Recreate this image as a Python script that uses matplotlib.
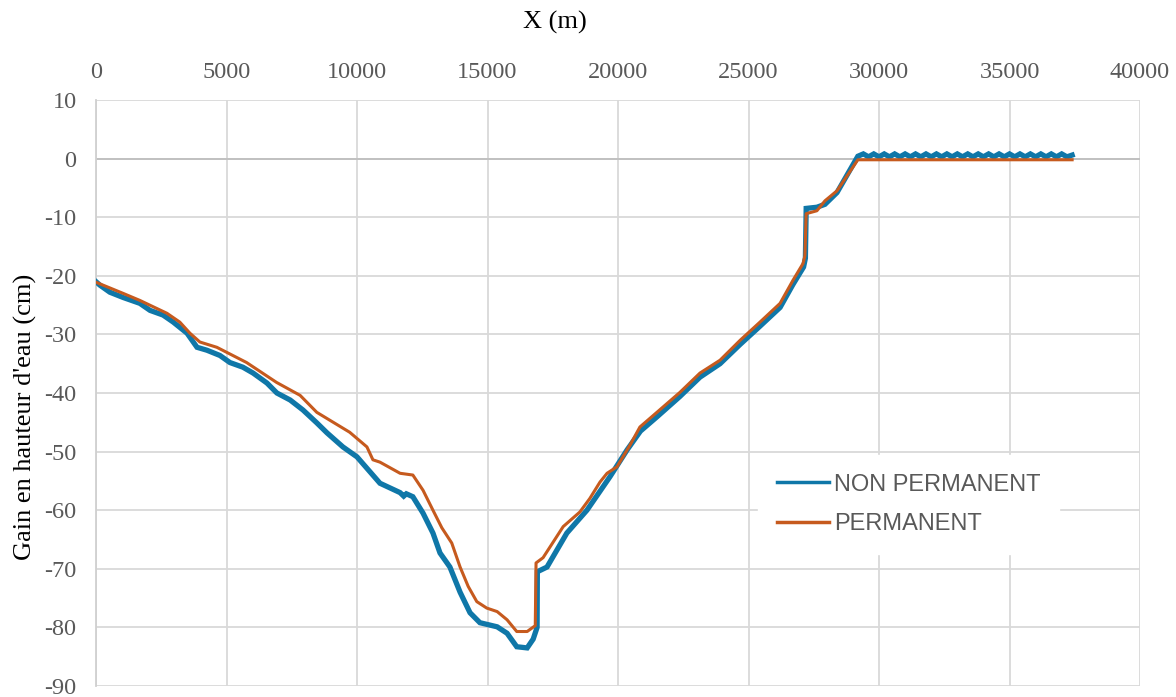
import matplotlib.pyplot as plt

plt.rcParams['axes.unicode_minus'] = False

# PERMANENT (smooth curve)
x_perm = [0, 1040, 1680, 2720, 3210, 3600, 3980, 4630, 5770, 6920, 7820, 8460,
          9720, 10380, 10610, 10880, 11650, 12140, 12530, 12910, 13250, 13630,
          13950, 14260, 14590, 14970, 15370, 15750, 16120, 16520, 16830, 16860,
          17130, 17900, 18540, 18920, 19310, 19580, 19960, 20460, 20840, 21490,
          22370, 23140, 23910, 24680, 25440, 26210, 26700, 27090, 27160, 27210,
          27620, 27930, 28390, 29190, 37400]
y_perm = [-21.1, -23, -24.2, -26.4, -27.9, -29.8, -31.3, -32.2, -34.8, -38.2, -40.4, -43.3,
          -46.7, -49.2, -51.4, -51.8, -53.7, -54, -56.6, -60, -63, -65.6,
          -69.7, -73, -75.6, -76.7, -77.3, -78.7, -80.7, -80.7, -79.7, -69,
          -68.1, -62.8, -60.3, -58, -55.2, -53.7, -52.6, -48.9, -45.8, -43.3,
          -39.9, -36.6, -34.4, -31, -27.9, -24.7, -20.8, -17.9, -16.6, -9.4,
          -8.9, -7.2, -5.5, -0.2, -0.2]

# NON PERMANENT (jagged curve)
x_np = [0, 150, 530, 1040, 1680, 2070, 2570, 2960, 3490, 3870, 4250, 4750,
        5130, 5630, 6020, 6550, 6930, 7440, 7930, 8460, 8850, 9460, 10000,
        10880, 11650, 11790, 11890, 12140, 12530, 12910, 13180, 13560, 13950,
        14330, 14710, 15370, 15750, 16120, 16520, 16750, 16900, 16910, 17280,
        18040, 18810, 19690, 20350, 20860, 21510, 22370, 23140, 23910, 24680,
        25440, 26210, 26700, 27110, 27180, 27210, 27620, 27930, 28390, 29190,
        29400, 29600, 29800, 30000, 30200, 30400, 30600, 30800, 31000, 31200,
        31400, 31600, 31800, 32000, 32200, 32400, 32600, 32800, 33000, 33200,
        33400, 33600, 33800, 34000, 34200, 34400, 34600, 34800, 35000, 35200,
        35400, 35600, 35800, 36000, 36200, 36400, 36600, 36800, 37000, 37200,
        37400]
y_np = [-21, -21.6, -22.8, -23.7, -24.7, -25.9, -26.7, -27.9, -29.8, -32.2, -32.7, -33.6,
        -34.8, -35.6, -36.6, -38.3, -40, -41.2, -42.9, -45.1, -46.8, -49.2, -50.9,
        -55.4, -57, -57.6, -57.2, -57.7, -60.5, -63.9, -67.3, -69.7, -74,
        -77.5, -79.2, -79.9, -81, -83.3, -83.5, -82, -80, -70.5, -69.7,
        -63.9, -60, -54.3, -49.7, -46.5, -44, -40.6, -37.3, -35, -31.7,
        -28.6, -25.4, -21.5, -18.5, -17, -8.5, -8.3, -7.8, -5.8, 0.4,
        0.8, 0.3, 0.8, 0.3, 0.8, 0.3, 0.8, 0.3, 0.8, 0.3,
        0.8, 0.3, 0.8, 0.3, 0.8, 0.3, 0.8, 0.3, 0.8, 0.3,
        0.8, 0.3, 0.8, 0.3, 0.8, 0.3, 0.8, 0.3, 0.8, 0.3,
        0.8, 0.3, 0.8, 0.3, 0.8, 0.3, 0.8, 0.3, 0.8, 0.3,
        0.6]

blue = '#0f77a8'
orange = '#c65a1e'
grey_txt = '#595959'

fig = plt.figure(figsize=(11.76, 6.97), dpi=100)
ax = fig.add_axes([96 / 1176, 11 / 697, 1044 / 1176, 586 / 697])

ax.plot(x_np, y_np, color=blue, lw=3.8, solid_joinstyle='miter',
        label='NON PERMANENT', zorder=3)
ax.plot(x_perm, y_perm, color=orange, lw=2.2, label='PERMANENT', zorder=4)

ax.set_xlim(0, 40000)
ax.set_ylim(-90, 10)
ax.set_xticks(range(0, 40001, 5000))
ax.set_yticks(range(-90, 11, 10))
ax.xaxis.tick_top()
ax.xaxis.set_label_position('top')
ax.grid(True, color='#d9d9d9', lw=1.3)
ax.axhline(0, color='#bfbfbf', lw=1.3, zorder=2)
ax.set_axisbelow(True)
for s in ['top', 'right', 'bottom']:
    ax.spines[s].set_visible(False)
ax.spines['left'].set_color('#d0d0d0')
ax.spines['left'].set_linewidth(1.3)
ax.tick_params(axis='y', length=0, pad=14, labelsize=17.5, colors=grey_txt)
ax.tick_params(axis='x', length=0, pad=12, labelsize=17.5, colors=grey_txt)
for lbl in ax.get_xticklabels() + ax.get_yticklabels():
    lbl.set_family('Liberation Serif')

ax.set_xlabel('X (m)', family='Liberation Serif', fontsize=19, color='black')
ax.set_ylabel("Gain en hauteur d'eau (cm)", family='Liberation Serif', fontsize=19,
              color='black')
ax.xaxis.set_label_coords(0.44, 1.133)
ax.yaxis.set_label_coords(-0.068, 0.46)
ax.xaxis.label.set_va('center')
ax.yaxis.label.set_va('center')

leg = ax.legend(loc='upper left', bbox_to_anchor=(0.623, 0.415), frameon=True,
                fancybox=False, edgecolor='white', framealpha=1,
                prop={'family': 'Liberation Sans', 'size': 17},
                handlelength=2.2, handletextpad=0.2, labelspacing=0.75,
                borderpad=0.8)
for t in leg.get_texts():
    t.set_color(grey_txt)
for h in leg.legend_handles:
    h.set_linewidth(2.5)

fig.savefig('out.png', dpi=100)
